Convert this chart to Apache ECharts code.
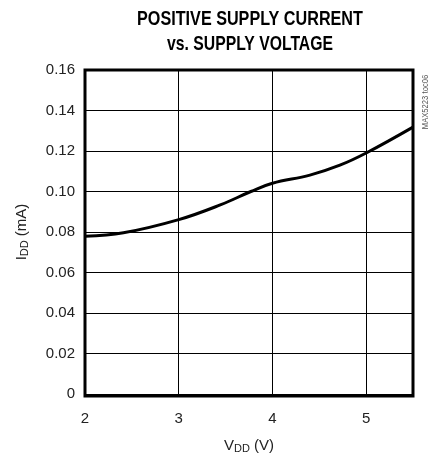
<!DOCTYPE html>
<html><head><meta charset="utf-8">
<script src="https://cdn.jsdelivr.net/npm/echarts@6/dist/echarts.min.js"></script>
<style>html,body{margin:0;padding:0;background:#fff}#c{width:433px;height:459px}</style>
</head><body><div id="c"></div>
<script>
var vdd = [2.0, 2.41, 3.0, 3.45, 3.77, 4.0, 4.4, 4.72, 5.0, 5.5];
var idd = [0.0779, 0.0796, 0.0861, 0.0935, 0.1000, 0.1041, 0.1081, 0.1130, 0.1190, 0.1318];
var xTicks = [2, 3, 4, 5];
var titleLines = ['POSITIVE SUPPLY CURRENT', 'vs. SUPPLY VOLTAGE'];
var FONT = '"Liberation Sans Narrow", "Arial Narrow", "Liberation Sans", sans-serif';
var chart = echarts.init(document.getElementById('c'));
chart.setOption({
  animation: false,
  grid: {left: 85, right: 20, top: 70, bottom: 63},
  xAxis: {
    type: 'value', min: 2, max: 5.5, interval: 1,
    axisLine: {show: false}, axisTick: {show: false},
    splitLine: {show: true, lineStyle: {color: '#000', width: 1}},
    axisLabel: {fontFamily: FONT, fontSize: 15, color: '#222', margin: 17,
      showMaxLabel: false,
      formatter: function (v) { return xTicks.indexOf(v) >= 0 ? String(v) : ''; }},
    name: '{n|V}{s|DD}{n| (V)}', nameLocation: 'middle', nameGap: 43,
    nameTextStyle: {rich: {n: {fontFamily: FONT, fontSize: 15, color: '#222'}, s: {fontFamily: FONT, fontSize: 11, color: '#222', verticalAlign: 'bottom', padding: [6, 0, 0, 0]}}}
  },
  yAxis: {
    type: 'value', min: 0, max: 0.16, interval: 0.02,
    axisLine: {show: false}, axisTick: {show: false},
    splitLine: {show: true, lineStyle: {color: '#000', width: 1}},
    axisLabel: {fontFamily: FONT, fontSize: 15, color: '#222', margin: 10,
      formatter: function (v) {
        var k = Math.round(v * 100) / 100;
        if (k === 0) return '0';
        return k.toFixed(2);
      }},
    name: '{n|I}{s|DD}{n| (mA)}', nameLocation: 'middle', nameGap: 55,
    nameTextStyle: {rich: {n: {fontFamily: FONT, fontSize: 15, color: '#222'}, s: {fontFamily: FONT, fontSize: 11, color: '#222', verticalAlign: 'bottom', padding: [6, 0, 0, 0]}}}
  },
  graphic: [
    {type: 'text', x: 250, y: 19, scaleX: 0.77,
      style: {text: titleLines[0], fontFamily: FONT, fontWeight: 'bold', fontSize: 21, fill: '#000', align: 'center', verticalAlign: 'middle'}},
    {type: 'text', x: 250, y: 44, scaleX: 0.75,
      style: {text: titleLines[1], fontFamily: FONT, fontWeight: 'bold', fontSize: 21, fill: '#000', align: 'center', verticalAlign: 'middle'}},
    {type: 'rect', shape: {x: 85, y: 70, width: 328, height: 326}, style: {fill: 'none', stroke: '#000', lineWidth: 3}, z: 100},
    {type: 'text', x: 426, y: 102, rotation: Math.PI / 2, scaleX: 0.85,
      style: {text: 'MAX5223 toc06', fontFamily: FONT, fontSize: 9, fill: '#555', align: 'center', verticalAlign: 'middle'}}
  ],
  series: [{
    type: 'line', smooth: 0.4, symbol: 'none',
    data: vdd.map(function (v, i) { return [v, idd[i]]; }),
    lineStyle: {color: '#000', width: 3}
  }]
});
</script></body></html>
